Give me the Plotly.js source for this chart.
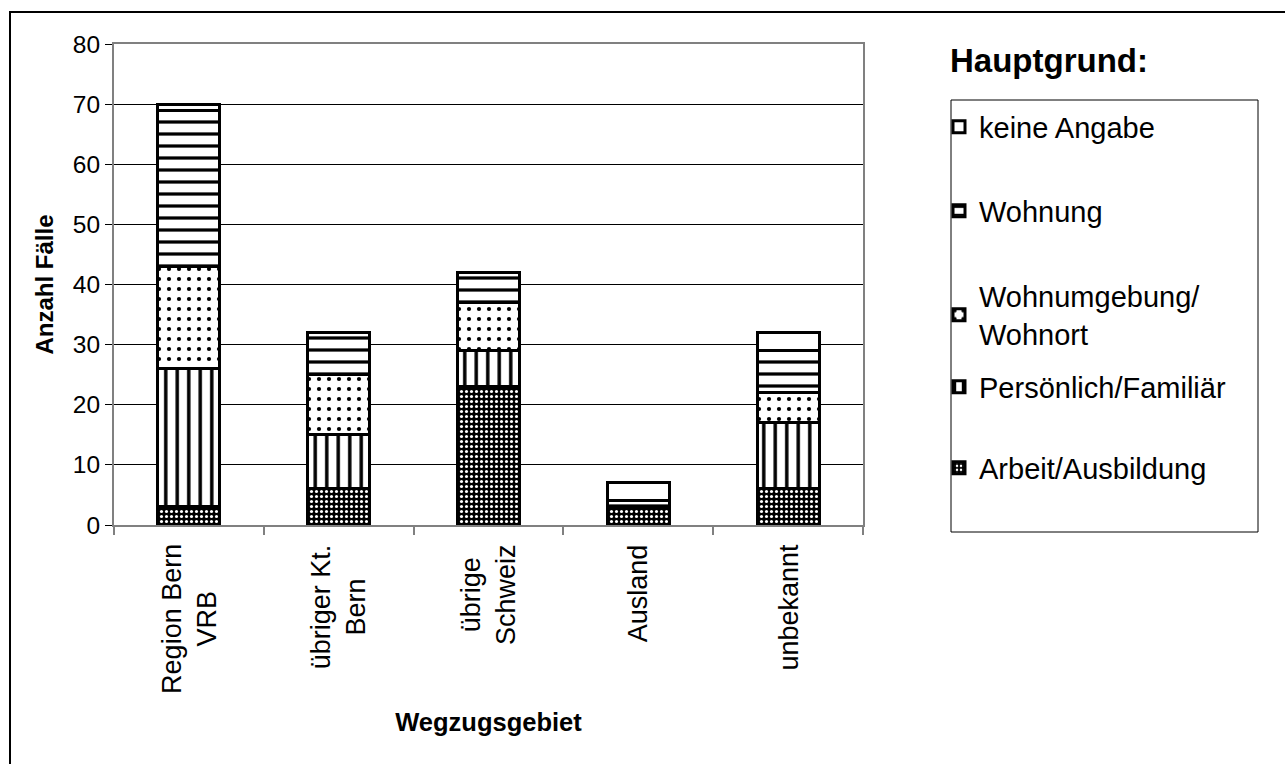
<!DOCTYPE html>
<html>
<head>
<meta charset="utf-8">
<script src="https://cdn.plot.ly/plotly-3.0.1.min.js"></script>
<style>
  html, body { margin: 0; padding: 0; background: #fff; }
  #chart { width: 1285px; height: 764px; }
</style>
</head>
<body>
<div id="chart"></div>
<script>
// ---- data ----
const categories = ["Region Bern<br>VRB", "übriger Kt.<br>Bern", "übrige<br>Schweiz", "Ausland", "unbekannt"];
const arbeitAusbildung = [3, 6, 23, 3, 6];
const persoenlichFamiliaer = [23, 9, 6, 0, 11];
const wohnumgebungWohnort = [17, 10, 8, 0, 5];
const wohnung = [26, 7, 5, 1, 7];
const keineAngabe = [1, 0, 0, 3, 3];
const seriesNames = ["Arbeit/Ausbildung", "Persönlich/Familiär", "Wohnumgebung/<br>Wohnort", "Wohnung", "keine Angabe"];
const yTicks = [0, 10, 20, 30, 40, 50, 60, 70, 80];

// ---- geometry helpers (pixel -> paper) ----
const W = 1285, H = 764;
const L = 114, R = 863, T = 44, B = 525;
const px = x => (x - L) / (R - L);
const py = y => (B - y) / (B - T);

const FONT = "Liberation Sans, Arial, sans-serif";

const patterns = [
  {shape: ".", fgcolor: "#ffffff", bgcolor: "#000000", size: 5, solidity: 0.3, fillmode: "replace"},
  {shape: "|", fgcolor: "#000000", bgcolor: "#ffffff", size: 11.5, solidity: 0.3, fillmode: "replace"},
  {shape: ".", fgcolor: "#000000", bgcolor: "#ffffff", size: 10, solidity: 0.14, fillmode: "replace"},
  {shape: "-", fgcolor: "#000000", bgcolor: "#ffffff", size: 12, solidity: 0.27, fillmode: "replace"},
  {shape: "", fgcolor: "#000000", bgcolor: "#ffffff", size: 8, solidity: 0.3, fillmode: "replace"}
];
const values = [arbeitAusbildung, persoenlichFamiliaer, wohnumgebungWohnort, wohnung, keineAngabe];
const baseColors = ["#000000", "#ffffff", "#ffffff", "#ffffff", "#ffffff"];
// legend entry vertical centres (px) for each series
const legendCentres = [468, 387, 315, 211, 127];
const legendIds = ["legend", "legend2", "legend3", "legend4", "legend5"];

const traces = values.map((v, i) => ({
  type: "bar",
  name: seriesNames[i],
  x: categories,
  y: v,
  legend: legendIds[i],
  marker: {
    color: baseColors[i],
    line: {color: "#000000", width: 3},
    pattern: patterns[i]
  },
  hoverinfo: "x+y+name"
}));

const labelAnnotations = categories.map(c => ({
  x: c, xref: "x",
  y: py(542), yref: "paper",
  text: c,
  textangle: -90,
  xanchor: "center", yanchor: "top",
  align: "center",
  showarrow: false,
  font: {family: FONT, size: 27, color: "#000"}
}));

const layout = {
  width: W, height: H,
  paper_bgcolor: "#ffffff",
  plot_bgcolor: "#ffffff",
  margin: {l: L, r: W - R, t: T, b: H - B, pad: 0},
  barmode: "stack",
  bargap: 0.587,
  showlegend: true,
  font: {family: FONT, color: "#000"},
  xaxis: {
    type: "category",
    range: [-0.5, 4.5],
    showticklabels: false,
    ticks: "outside",
    tickson: "boundaries",
    ticklen: 8,
    tickcolor: "#808080",
    tickwidth: 2,
    showline: true,
    linecolor: "#808080",
    linewidth: 2,
    mirror: true,
    showgrid: false,
    zeroline: false,
    title: {text: "Wegzugsgebiet", font: {family: FONT, size: 25.5, color: "#000", weight: "bold"}, standoff: 187}
  },
  yaxis: {
    range: [0, 80],
    tickvals: yTicks,
    ticktext: yTicks.map(String),
    ticks: "outside",
    ticklen: 7,
    tickcolor: "#000000",
    tickwidth: 1,
    tickfont: {family: FONT, size: 24.5, color: "#000"},
    showline: true,
    linecolor: "#808080",
    linewidth: 2,
    mirror: true,
    showgrid: true,
    gridcolor: "#000000",
    gridwidth: 1,
    zeroline: false,
    title: {text: "Anzahl Fälle", font: {family: FONT, size: 24, color: "#000", weight: "bold"}, standoff: 12}
  },
  annotations: labelAnnotations.concat([{
    x: px(948), xref: "paper", xanchor: "left",
    y: py(61), yref: "paper", yanchor: "middle",
    text: "<b>Hauptgrund:</b>",
    showarrow: false,
    font: {family: FONT, size: 33, color: "#000"}
  }]),
  shapes: [
    {type: "rect", xref: "paper", yref: "paper",
     x0: px(10), x1: px(1300), y0: py(780), y1: py(12),
     line: {color: "#000", width: 2}, fillcolor: "rgba(0,0,0,0)", layer: "below"},
    {type: "rect", xref: "paper", yref: "paper",
     x0: px(951), x1: px(1258), y0: py(532), y1: py(100),
     line: {color: "#000", width: 1}, fillcolor: "rgba(0,0,0,0)"}
  ]
};

legendIds.forEach((id, i) => {
  layout[id] = {
    x: px(939), xanchor: "left",
    y: py(legendCentres[i]), yanchor: "middle",
    bgcolor: "rgba(0,0,0,0)",
    borderwidth: 0,
    font: {family: FONT, size: 29, color: "#000"},
    itemclick: false, itemdoubleclick: false
  };
});

Plotly.newPlot("chart", traces, layout, {displayModeBar: false});
</script>
</body>
</html>
